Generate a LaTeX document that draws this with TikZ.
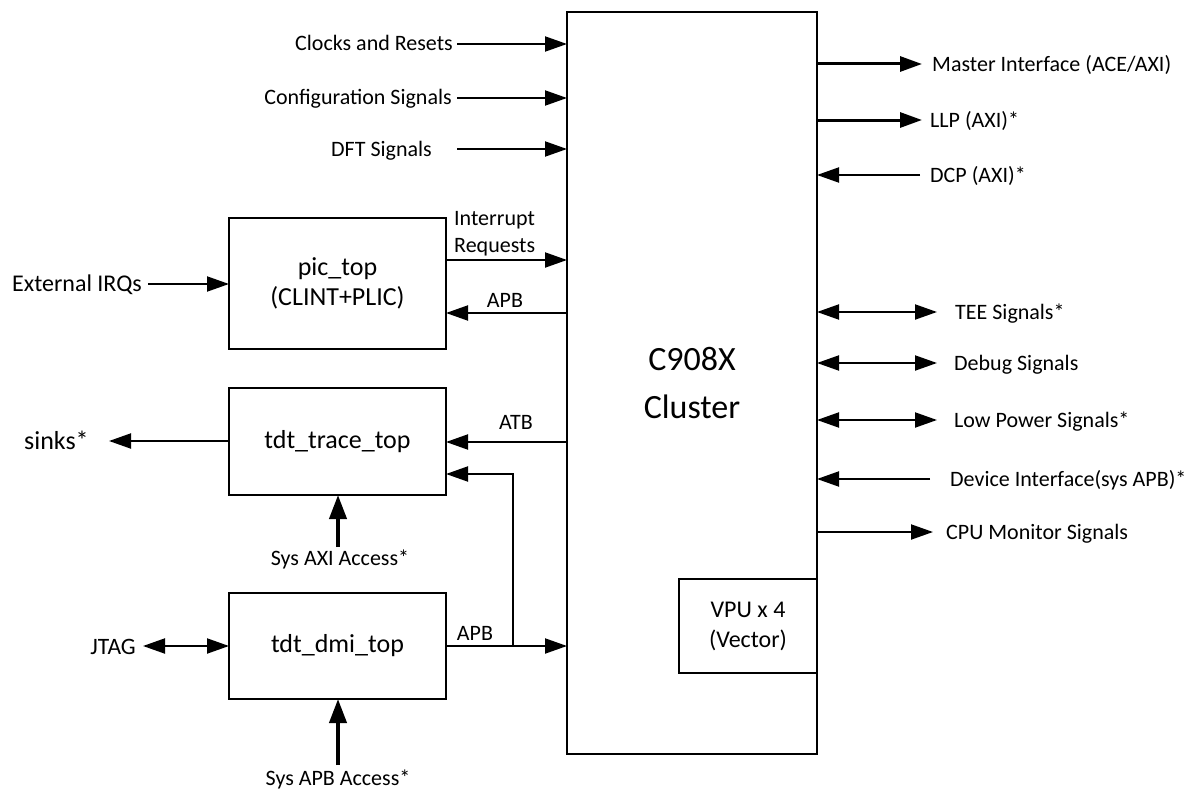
\documentclass[tikz,border=0pt]{standalone}
\usepackage{fontspec}
\setmainfont{Carlito}
\usetikzlibrary{arrows.meta}
\begin{document}
\begin{tikzpicture}[x=1pt,y=-1pt,
  >={Triangle[length=22pt,width=15pt]},
  box/.style={draw, line width=2.5pt, inner sep=0pt, outer sep=0pt, align=center, font=\fontsize{26}{30}\selectfont},
  sig/.style={line width=2pt},
  bold/.style={line width=3pt},
  thk/.style={line width=4pt, -{Triangle[length=24pt,width=17pt]}},
  lbl/.style={font=\fontsize{22}{26}\selectfont, inner sep=0pt, text height=14pt, text depth=0pt}]
\useasboundingbox (0,0) rectangle (1192,792);

% main cluster
\node[box, minimum width=250pt, minimum height=742pt, font=\fontsize{34}{48}\selectfont] (cl) at (692,383) {C908X\\Cluster};
\node[draw, line width=1.5pt, minimum width=138pt, minimum height=94pt, inner sep=0pt, outer sep=0pt, align=center, font=\fontsize{24}{30}\selectfont] (vpu) at (748,626) {VPU x 4\\(Vector)};

% left blocks
\node[box, minimum width=217pt, minimum height=131pt] (pic) at (337.5,283.5) {pic\_top\\(CLINT+PLIC)};
\node[box, minimum width=217pt, minimum height=107pt] (trace) at (337.5,441.5) {tdt\_trace\_top};
\node[box, minimum width=217pt, minimum height=106pt] (dmi) at (337.5,646) {tdt\_dmi\_top};

% top-left inputs
\node[lbl, anchor=east] (clk) at (453,44) {Clocks and Resets};
\node[lbl, anchor=east] (cfg) at (452,98) {Configuration Signals};
\node[lbl, anchor=east] (dft) at (432,149) {DFT Signals};
\coordinate (clkS) at (457,44);
\coordinate (cfgS) at (457,98);
\coordinate (dftS) at (457,149);
\draw[sig,->] (clkS) -- (clkS -| cl.west);
\draw[sig,->] (cfgS) -- (cfgS -| cl.west);
\draw[sig,->] (dftS) -- (dftS -| cl.west);

% right side
\coordinate (mE) at (922,64);
\coordinate (lE) at (922,120);
\coordinate (dE) at (920,175);
\coordinate (tE) at (937,312);
\coordinate (gE) at (937,363);
\coordinate (pE) at (937,420);
\coordinate (vE) at (930,479);
\coordinate (uE) at (933,532);
\draw[bold,->] (mE -| cl.east) -- (mE);
\draw[bold,->] (lE -| cl.east) -- (lE);
\draw[sig,->] (dE) -- (dE -| cl.east);
\draw[sig,<->] (tE -| cl.east) -- (tE);
\draw[sig,<->] (gE -| cl.east) -- (gE);
\draw[sig,<->] (pE -| cl.east) -- (pE);
\draw[sig,->] (vE) -- (vE -| cl.east);
\draw[sig,->] (uE -| cl.east) -- (uE);
\node[lbl, anchor=west] (mI) at (932,64) {Master Interface (ACE/AXI)};
\node[lbl, anchor=west] (llp) at (930,120) {LLP (AXI)*};
\node[lbl, anchor=west] (dcp) at (930,175) {DCP (AXI)*};
\node[lbl, anchor=west] (tee) at (955,312) {TEE Signals*};
\node[lbl, anchor=west] (dbg) at (954,363) {Debug Signals};
\node[lbl, anchor=west] (lps) at (954,420) {Low Power Signals*};
\node[lbl, anchor=west] (dev) at (950,479) {Device Interface(sys APB)*};
\node[lbl, anchor=west] (cpu) at (946,532) {CPU Monitor Signals};

% pic connections
\node[lbl, anchor=east, font=\fontsize{24}{28}\selectfont, text height=15.5pt] (ext) at (142,284) {External IRQs};
\coordinate (extS) at (148,284);
\draw[sig,->] (extS) -- (extS -| pic.west);
\coordinate (irqY) at (0,260);
\coordinate (apbY) at (0,313);
\draw[sig,->] (irqY -| pic.east) -- (irqY -| cl.west);
\draw[sig,->] (apbY -| cl.west) -- (apbY -| pic.east);
\node[anchor=west, align=left, inner sep=0pt, font=\fontsize{22}{27}\selectfont] (irq) at (454,234) {Interrupt\\Requests};
\node[lbl] (apb1) at (505,300) {APB};

% trace connections
\node[lbl, anchor=west, font=\fontsize{26}{30}\selectfont, text height=17pt] (sinks) at (24,441) {sinks*};
\coordinate (sinkE) at (109,441);
\draw[sig,->] (sinkE -| trace.west) -- (sinkE);
\coordinate (atbY) at (0,442);
\draw[sig,->] (atbY -| cl.west) -- (atbY -| trace.east);
\node[lbl] (atb) at (516,422) {ATB};
\node[lbl] (axi) at (340,558) {Sys AXI Access*};
\coordinate (axiS) at (338,547);
\draw[thk] (axiS) -- (axiS |- trace.south);

% dmi connections
\node[lbl, anchor=east, font=\fontsize{23.5}{28}\selectfont, text height=15pt] (jtag) at (136,647) {JTAG};
\coordinate (jtagS) at (143,646);
\draw[sig,<->] (jtagS) -- (jtagS -| dmi.west);
\coordinate (apbY2) at (0,646);
\coordinate (jn) at (513,646);
\coordinate (jt) at (513,474);
\draw[sig,->] (apbY2 -| dmi.east) -- (apbY2 -| cl.west);
\draw[sig,->] (jn) -- (jt) -- (jt -| trace.east);
\node[lbl] (apb2) at (475,633) {APB};
\node[lbl] (apbacc) at (338,778) {Sys APB Access*};
\coordinate (apbS) at (338,765);
\draw[thk] (apbS) -- (apbS |- dmi.south);
\end{tikzpicture}
\end{document}
